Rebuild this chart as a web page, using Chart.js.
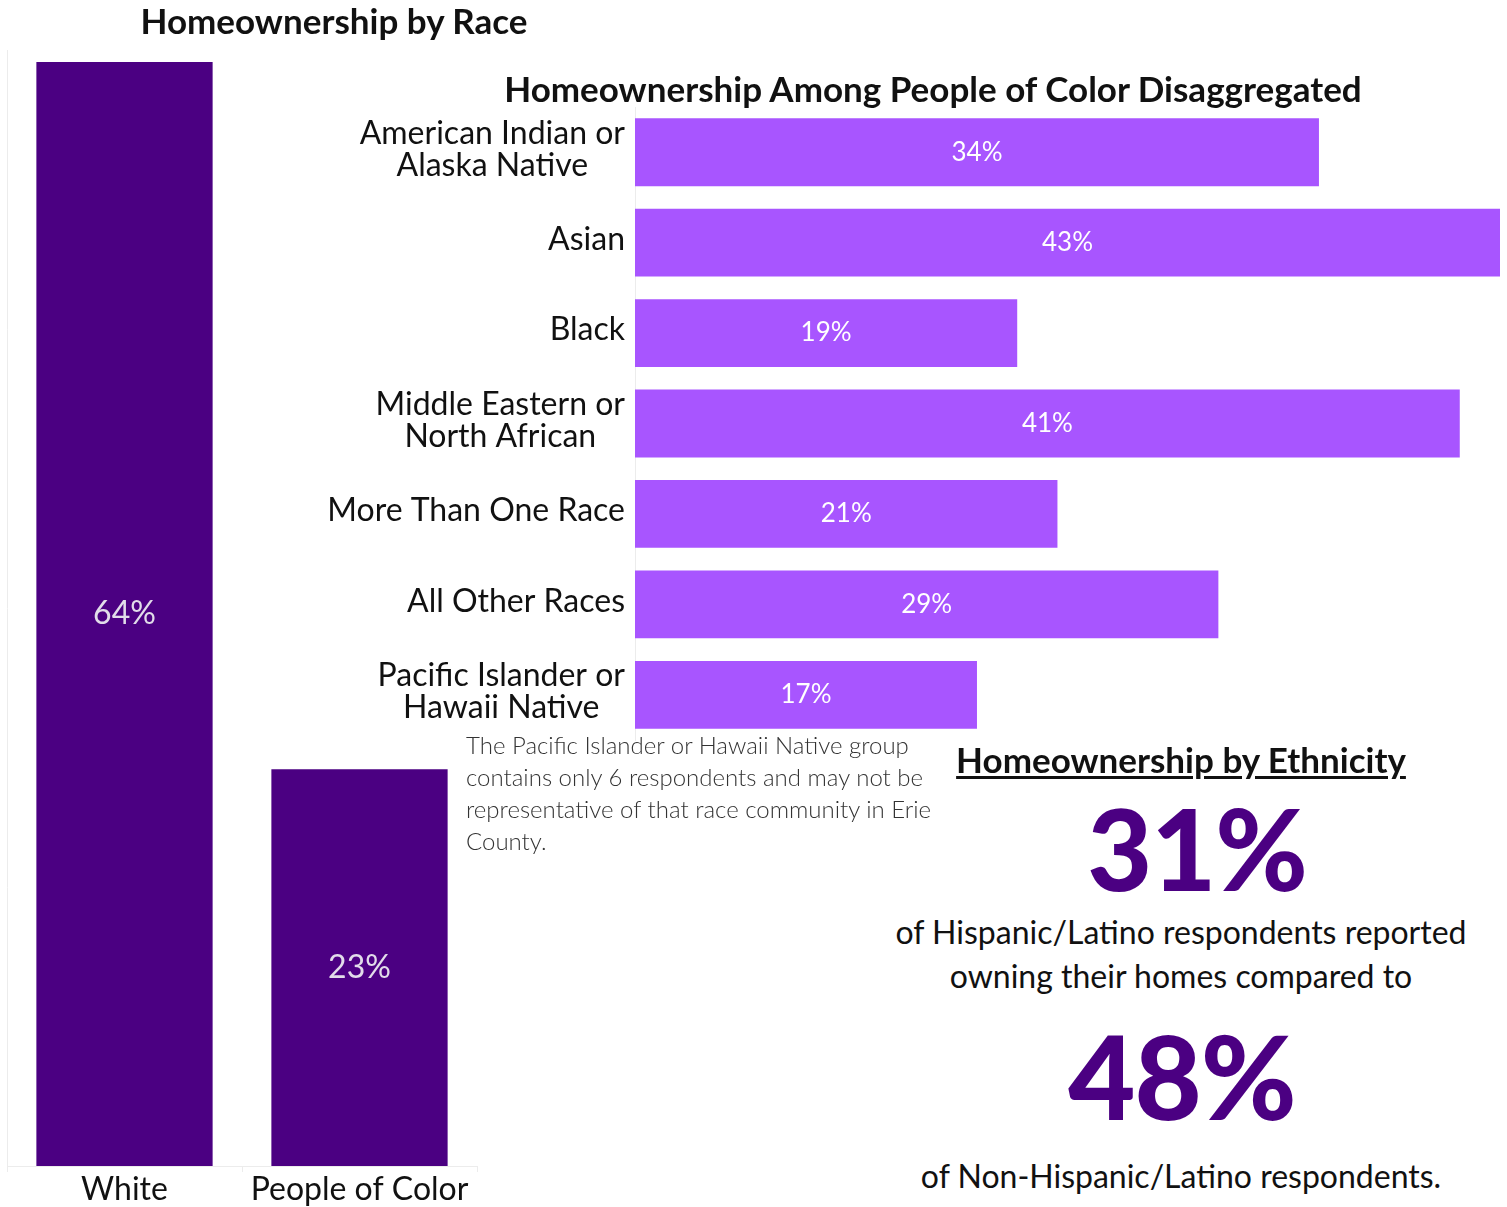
<!DOCTYPE html>
<html>
<head>
<meta charset="utf-8">
<script src="https://cdn.jsdelivr.net/npm/chart.js@4.4.0/dist/chart.umd.min.js"></script>
<style>
  html, body { margin: 0; padding: 0; background: #fff; }
  body { width: 1507px; height: 1207px; position: relative; overflow: hidden; font-family: Lato, "Noto Sans", sans-serif; color: #111; }
  .txt { position: absolute; white-space: nowrap; }
  .center { transform: translateX(-50%); text-align: center; }
  #raceWrap { position: absolute; left: 0; top: 0; width: 480px; height: 1207px; }
  #pocWrap { position: absolute; left: 300px; top: 100px; width: 1207px; height: 650px; }
  .big { color: #4B0082; font-weight: 900; font-size: 112px; line-height: 112px; letter-spacing: -1px; }
</style>
</head>
<body>
<div id="raceWrap"><canvas id="raceChart"></canvas></div>
<div id="pocWrap"><canvas id="pocChart"></canvas></div>

<div class="txt center" style="left:334px; top:0px; font-size:35px; font-weight:700; line-height:40px;">Homeownership by Race</div>
<div class="txt center" style="left:933px; top:68px; font-size:35px; font-weight:700; line-height:40px;">Homeownership Among People of Color Disaggregated</div>

<div class="txt" style="left:466px; top:729px; font-size:24px; font-weight:300; line-height:32px; color:#333;">
  The Pacific Islander or Hawaii Native group<br>
  contains only 6 respondents and may not be<br>
  representative of that race community in Erie<br>
  County.
</div>

<div class="txt center" style="left:1181px; top:739px; font-size:35px; font-weight:700; line-height:40px; text-decoration:underline; text-underline-offset:3px;">Homeownership by Ethnicity</div>
<div id="ethA" class="txt center big" style="left:1197px; top:792px;"></div>
<div class="txt center" style="left:1181px; top:910px; font-size:32px; line-height:44px;">
  of Hispanic/Latino respondents reported<br>owning their homes compared to
</div>
<div id="ethB" class="txt center big" style="left:1182px; top:1020px; font-size:116px;"></div>
<div class="txt center" style="left:1181px; top:1156px; font-size:32px; line-height:40px;">of Non-Hispanic/Latino respondents.</div>

<script>
// Overall homeownership by race
const raceLabels = ['White', 'People of Color'];
const raceValues = [64, 23];

// People of color, broken out by group
const pocLabels = [
    ['American Indian or', 'Alaska Native'],
    ['Asian'],
    ['Black'],
    ['Middle Eastern or', 'North African'],
    ['More Than One Race'],
    ['All Other Races'],
    ['Pacific Islander or', 'Hawaii Native']
];
const pocValues = [34, 43, 19, 41, 21, 29, 17];

// Hispanic/Latino vs Non-Hispanic/Latino
const ethnicityLabels = ['Hispanic/Latino', 'Non-Hispanic/Latino'];
const ethnicityValues = [31, 48];

const DARK_PURPLE = '#4B0082';
const LIGHT_PURPLE = '#A855FF';
const AXIS_GREY = '#ececec';

document.getElementById('ethA').textContent = ethnicityValues[0] + '%';
document.getElementById('ethB').textContent = ethnicityValues[1] + '%';

// writes "NN%" in the middle of each bar
const barValueLabels = {
    id: 'barValueLabels',
    afterDatasetsDraw(chart, args, opts) {
        const ctx = chart.ctx;
        const meta = chart.getDatasetMeta(0);
        ctx.save();
        ctx.font = opts.font;
        ctx.fillStyle = opts.color;
        ctx.textAlign = 'center';
        ctx.textBaseline = 'middle';
        meta.data.forEach((bar, i) => {
            const p = bar.getCenterPoint();
            ctx.fillText(chart.data.datasets[0].data[i] + '%', p.x, p.y + (opts.dy || 0));
        });
        ctx.restore();
    }
};

// category labels for the horizontal chart: block right-aligned, lines centred in the block
const blockLabels = {
    id: 'blockLabels',
    afterDraw(chart, args, opts) {
        if (!opts.enabled) return;
        const ctx = chart.ctx;
        const yScale = chart.scales.y;
        const right = chart.chartArea.left - opts.gap;
        ctx.save();
        ctx.font = opts.font;
        ctx.fillStyle = opts.color;
        ctx.textAlign = 'center';
        ctx.textBaseline = 'middle';
        chart.data.labels.forEach((lines, i) => {
            const w = Math.max(...lines.map(l => ctx.measureText(l).width));
            const cx = right - w / 2;
            const cy = yScale.getPixelForTick(i);
            const top = cy - (lines.length - 1) * opts.lineHeight / 2;
            lines.forEach((l, j) => ctx.fillText(l, cx, top + j * opts.lineHeight + (opts.dy || 0)));
        });
        ctx.restore();
    }
};

Chart.register(barValueLabels, blockLabels);
Chart.defaults.font.family = 'Lato, "Noto Sans", sans-serif';
Chart.defaults.color = '#111';

new Chart(document.getElementById('raceChart').getContext('2d'), {
    type: 'bar',
    data: {
        labels: raceLabels,
        datasets: [{
            data: raceValues,
            backgroundColor: DARK_PURPLE,
            categoryPercentage: 0.75,
            barPercentage: 1
        }]
    },
    options: {
        responsive: true,
        maintainAspectRatio: false,
        animation: false,
        layout: { padding: { left: 7, right: 3, top: 50, bottom: 0 } },
        plugins: {
            legend: { display: false },
            tooltip: { enabled: false },
            barValueLabels: { font: '32px Lato', color: '#e2dcea', dy: 0 },
            blockLabels: { enabled: false }
        },
        scales: {
            x: {
                grid: { display: true, drawOnChartArea: false, drawTicks: true, tickLength: 6, color: AXIS_GREY, offset: true },
                border: { display: true, color: AXIS_GREY },
                ticks: { font: { size: 32 }, color: '#111', padding: -2 },
                afterFit(scale) { scale.height = 41; }
            },
            y: {
                min: 0,
                max: 64.7,
                grid: { display: false, drawTicks: false },
                border: { display: true, color: AXIS_GREY },
                ticks: { display: false },
                afterFit(scale) { scale.width = 0; }
            }
        }
    }
});

new Chart(document.getElementById('pocChart').getContext('2d'), {
    type: 'bar',
    data: {
        labels: pocLabels,
        datasets: [{
            data: pocValues,
            backgroundColor: LIGHT_PURPLE,
            categoryPercentage: 0.75,
            barPercentage: 1
        }]
    },
    options: {
        indexAxis: 'y',
        responsive: true,
        maintainAspectRatio: false,
        animation: false,
        layout: { padding: { left: 335, right: 7, top: 7, bottom: 10 } },
        plugins: {
            legend: { display: false },
            tooltip: { enabled: false },
            barValueLabels: { font: '26px Lato', color: '#ffffff', dy: 0 },
            blockLabels: { enabled: true, font: '32px Lato', color: '#111', gap: 10, lineHeight: 32, dy: -3 }
        },
        scales: {
            x: {
                display: false,
                min: 0,
                max: 43
            },
            y: {
                grid: { display: false, drawTicks: false },
                border: { display: true, color: AXIS_GREY },
                ticks: { display: false },
                afterFit(scale) { scale.width = 0; }
            }
        }
    }
});
</script>
</body>
</html>
